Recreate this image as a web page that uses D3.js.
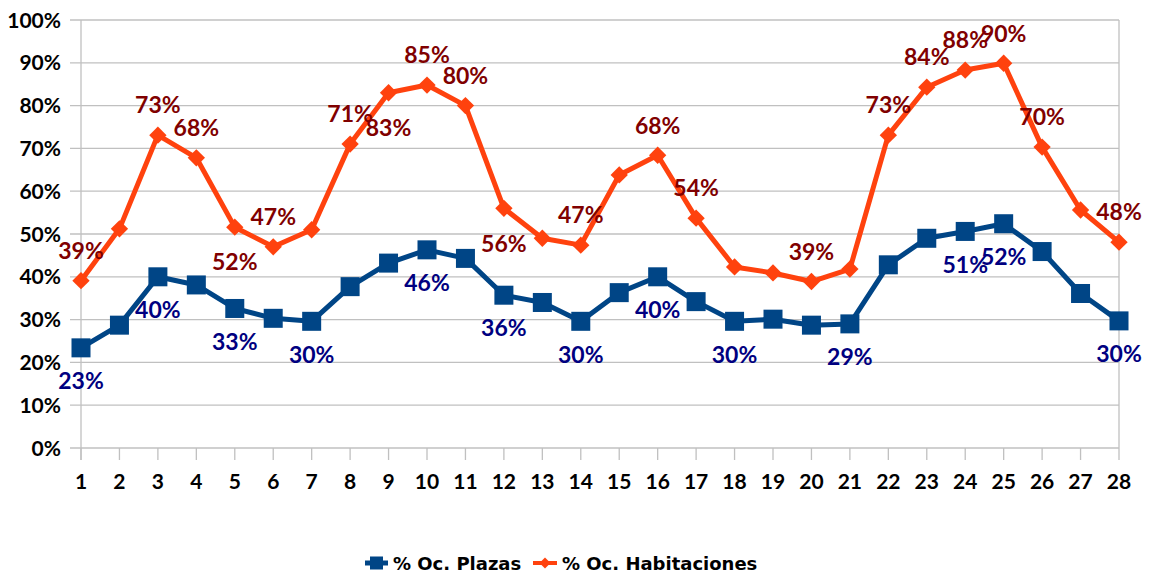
<!DOCTYPE html>
<html>
<head>
<meta charset="utf-8">
<script src="https://cdn.jsdelivr.net/npm/d3@7"></script>
<style>
  body { margin: 0; background: #fff; }
  svg text { font-family: Lato, "Open Sans", sans-serif; font-weight: bold; }
  svg text.legend { font-family: "DejaVu Sans", sans-serif; }
</style>
</head>
<body>
<div id="chart"></div>
<script>
var days = d3.range(1, 29);
var plazas = [23.4, 28.7, 40.0, 38.1, 32.6, 30.3, 29.6, 37.7, 43.2, 46.3,
              44.3, 35.7, 34.0, 29.6, 36.3, 40.0, 34.2, 29.6, 30.1, 28.7,
              29.0, 42.8, 49.0, 50.6, 52.4, 45.9, 36.1, 29.7];
var habitaciones = [39.1, 51.2, 73.1, 67.8, 51.6, 47.0, 51.0, 71.0, 83.0, 84.8,
                    80.0, 56.0, 49.0, 47.4, 63.8, 68.4, 53.7, 42.3, 40.9, 38.9,
                    41.8, 73.1, 84.3, 88.3, 89.9, 70.3, 55.6, 48.1];
var yTicks = [0, 10, 20, 30, 40, 50, 60, 70, 80, 90, 100];
var seriesNames = ["% Oc. Plazas", "% Oc. Habitaciones"];

// which points carry a value label (day numbers)
var plazasLabeled = [1, 3, 5, 7, 10, 12, 14, 16, 18, 21, 24, 25, 28];
var habLabeled = [1, 3, 4, 5, 6, 8, 9, 10, 11, 12, 14, 16, 17, 20, 22, 23, 24, 25, 26, 28];
var habBelow = [5, 9, 12];

var width = 1151, height = 573;
var svg = d3.select("#chart").append("svg")
    .attr("width", width)
    .attr("height", height);

var x = d3.scalePoint().domain(days).range([81, 1119]);
var y = d3.scaleLinear().domain([0, 100]).range([448, 20]);

var blue = "#004586", orange = "#ff420e";
var grid = "#c0c0c0";

// gridlines
svg.append("g").selectAll("line")
    .data(yTicks)
    .enter().append("line")
    .attr("x1", 70).attr("x2", 1119)
    .attr("y1", d => y(d)).attr("y2", d => y(d))
    .attr("stroke", grid).attr("stroke-width", 1.3);

// left axis line and right border
svg.append("line").attr("x1", 81).attr("x2", 81).attr("y1", y(100)).attr("y2", 460)
    .attr("stroke", grid).attr("stroke-width", 1.3);
svg.append("line").attr("x1", 1119).attr("x2", 1119).attr("y1", y(100)).attr("y2", y(0))
    .attr("stroke", grid).attr("stroke-width", 1.3);

// x tick marks
svg.append("g").selectAll("line")
    .data(days)
    .enter().append("line")
    .attr("x1", d => x(d)).attr("x2", d => x(d))
    .attr("y1", y(0)).attr("y2", 460)
    .attr("stroke", grid).attr("stroke-width", 1.3);

// y labels
svg.append("g").selectAll("text")
    .data(yTicks)
    .enter().append("text")
    .attr("x", 61).attr("y", d => y(d))
    .attr("dy", "0.36em")
    .attr("text-anchor", "end")
    .style("font-size", "21px")
    .attr("fill", "#000")
    .text(d => d + "%");

// x labels
svg.append("g").selectAll("text")
    .data(days)
    .enter().append("text")
    .attr("x", d => x(d)).attr("y", 481)
    .attr("dy", "0.36em")
    .attr("text-anchor", "middle")
    .style("font-size", "21px")
    .attr("fill", "#000")
    .text(d => d);

var line = d3.line()
    .x((d, i) => x(days[i]))
    .y(d => y(d));

// plazas series
svg.append("path").datum(plazas)
    .attr("d", line).attr("fill", "none")
    .attr("stroke", blue).attr("stroke-width", 5)
    .attr("stroke-linejoin", "round");
svg.append("g").selectAll("rect")
    .data(plazas)
    .enter().append("rect")
    .attr("x", (d, i) => x(days[i]) - 9.5)
    .attr("y", d => y(d) - 9.5)
    .attr("width", 19).attr("height", 19)
    .attr("fill", blue);

// habitaciones series
svg.append("path").datum(habitaciones)
    .attr("d", line).attr("fill", "none")
    .attr("stroke", orange).attr("stroke-width", 5)
    .attr("stroke-linejoin", "round");
svg.append("g").selectAll("path")
    .data(habitaciones)
    .enter().append("path")
    .attr("d", d3.symbol().type(d3.symbolSquare).size(150))
    .attr("transform", (d, i) => "translate(" + x(days[i]) + "," + y(d) + ") rotate(45)")
    .attr("fill", orange);

// value labels
svg.append("g").selectAll("text")
    .data(plazasLabeled)
    .enter().append("text")
    .attr("x", d => x(d))
    .attr("y", d => y(plazas[d - 1]) + 33)
    .attr("dy", "0.36em")
    .attr("text-anchor", "middle")
    .style("font-size", "23px")
    .attr("fill", "#000080")
    .text(d => Math.round(plazas[d - 1]) + "%");

svg.append("g").selectAll("text")
    .data(habLabeled)
    .enter().append("text")
    .attr("x", d => x(d))
    .attr("y", d => y(habitaciones[d - 1]) + (habBelow.indexOf(d) >= 0 ? 35 : -30))
    .attr("dy", "0.36em")
    .attr("text-anchor", "middle")
    .style("font-size", "23px")
    .attr("fill", "#800000")
    .text(d => Math.round(habitaciones[d - 1]) + "%");

// legend
var legend = svg.append("g").attr("transform", "translate(0,563)");
legend.append("line").attr("x1", 365).attr("x2", 388).attr("y1", 0).attr("y2", 0)
    .attr("stroke", blue).attr("stroke-width", 5);
legend.append("rect").attr("x", 370).attr("y", -6.5).attr("width", 13).attr("height", 13)
    .attr("fill", blue);
legend.append("text").attr("class", "legend").attr("x", 393).attr("y", 6.5)
    .style("font-size", "18px").attr("fill", "#000").text(seriesNames[0]);

legend.append("line").attr("x1", 533).attr("x2", 557).attr("y1", 0).attr("y2", 0)
    .attr("stroke", orange).attr("stroke-width", 4);
legend.append("path")
    .attr("d", d3.symbol().type(d3.symbolSquare).size(60))
    .attr("transform", "translate(545,0) rotate(45)")
    .attr("fill", orange);
legend.append("text").attr("class", "legend").attr("x", 562).attr("y", 6.5)
    .style("font-size", "18px").attr("fill", "#000").text(seriesNames[1]);
</script>
</body>
</html>
